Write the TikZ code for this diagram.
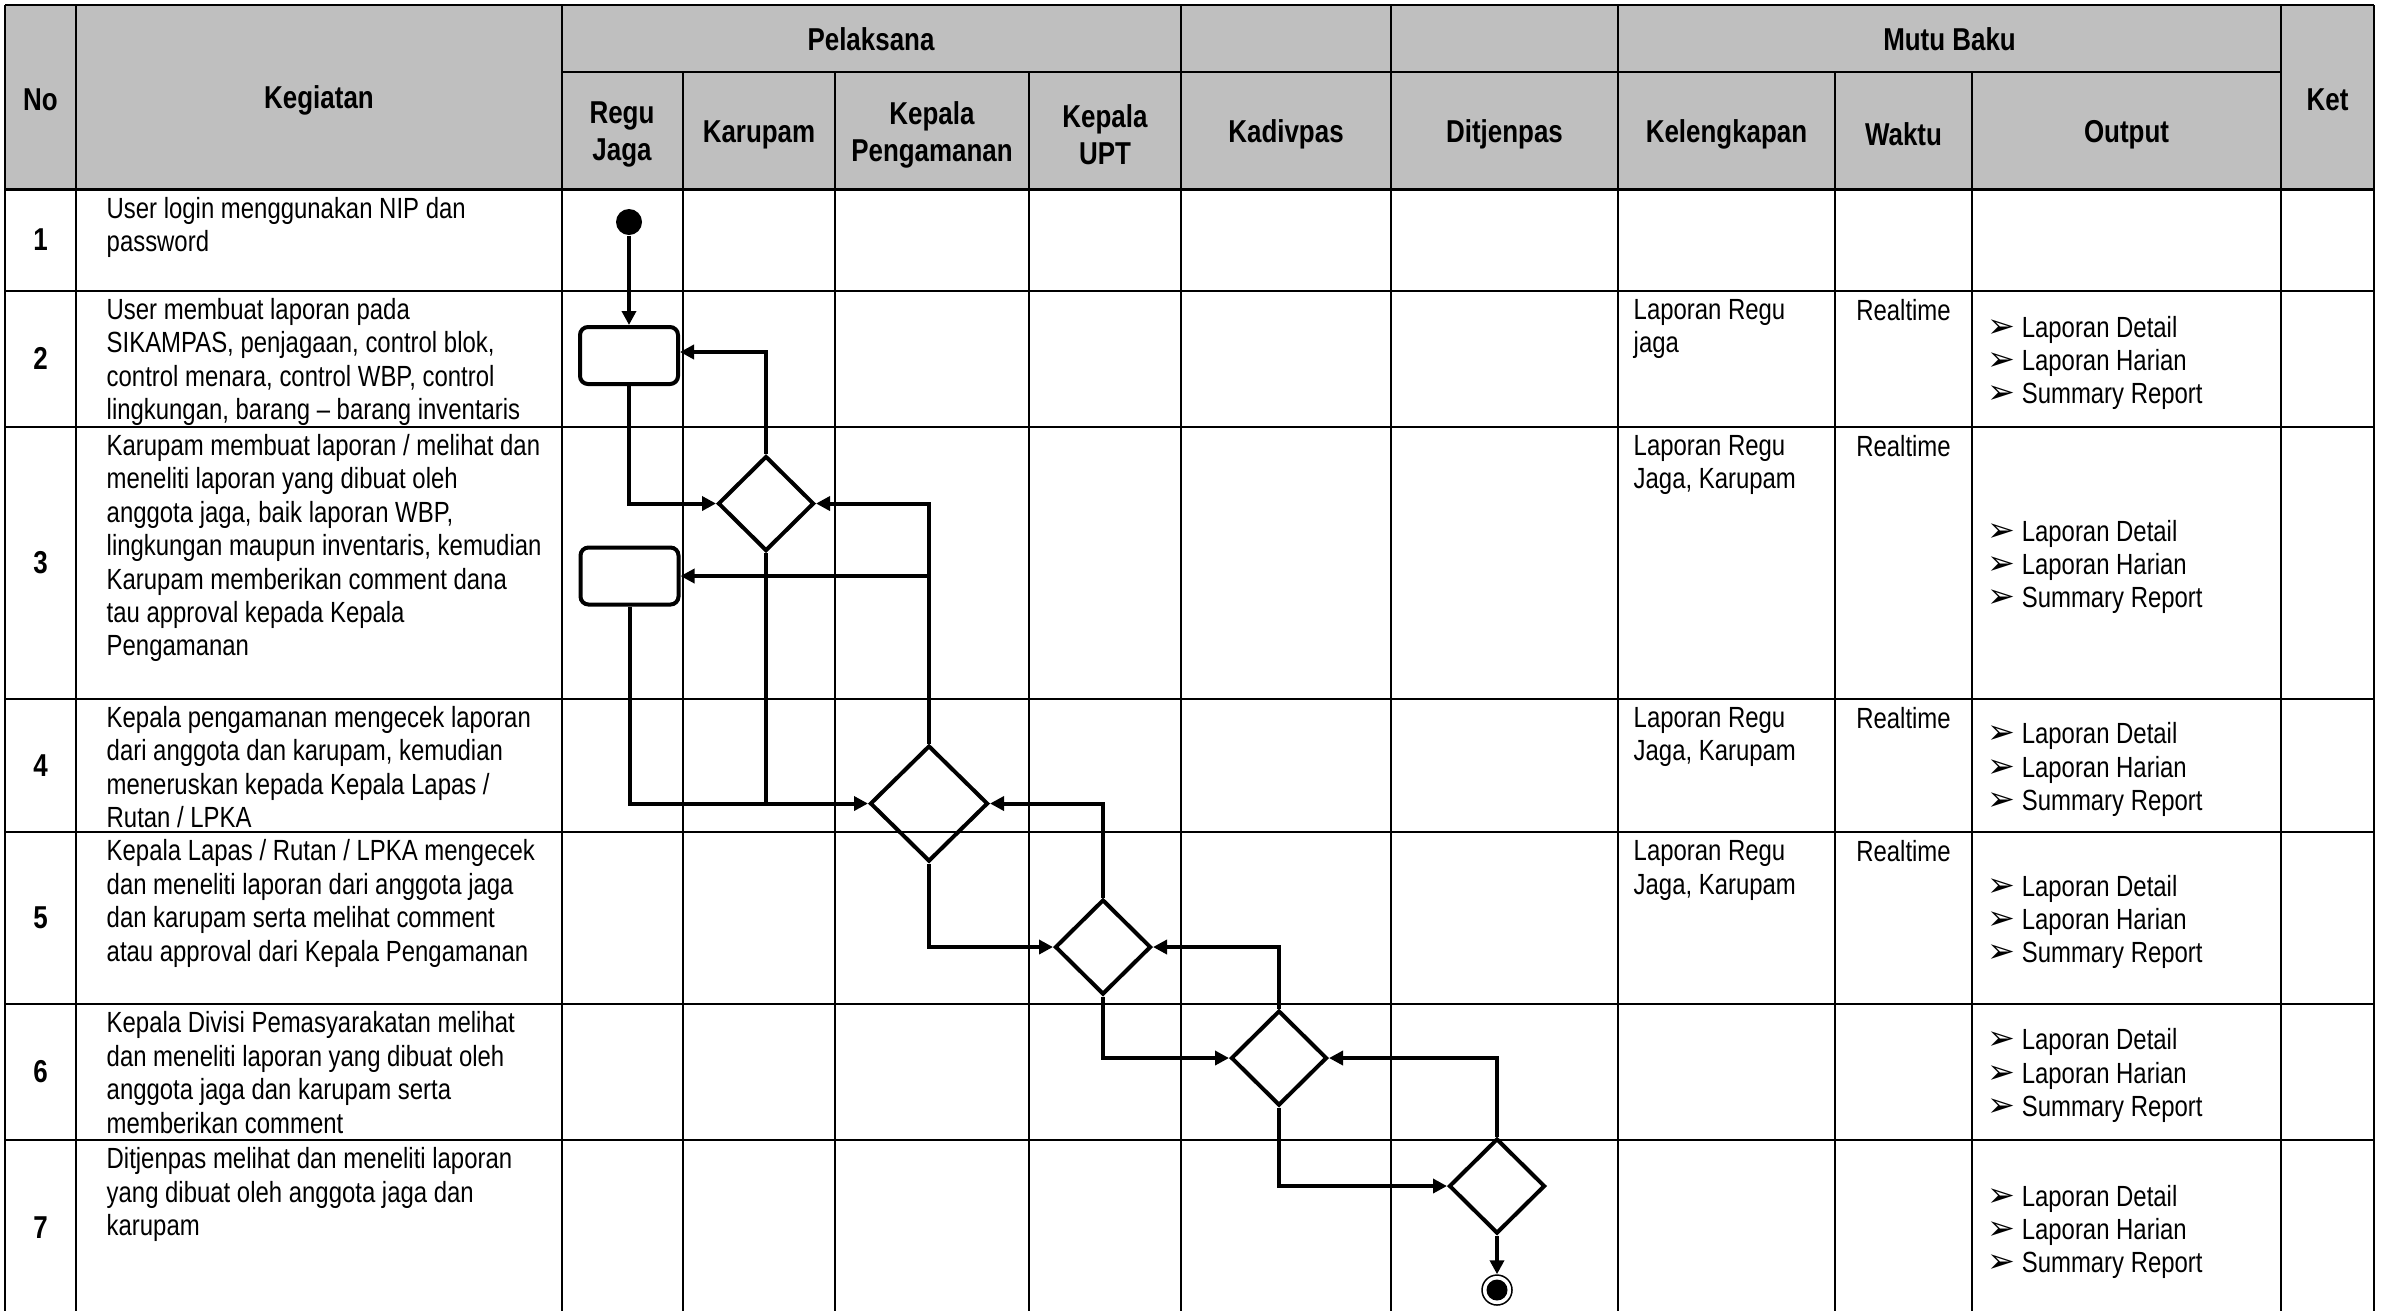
\documentclass[tikz,border=0pt]{standalone}
\usepackage{fontspec}
\setmainfont{Liberation Sans}[FakeStretch=0.82]
\newfontfamily\simbol{DejaVu Sans}
\usetikzlibrary{arrows.meta,positioning,shapes.geometric}

\newcommand{\butir}{\makebox[9.7pt][l]{\simbol\fontsize{9.5}{9.5}\selectfont ➢}}

\begin{document}
\begin{tikzpicture}[x=0.1mm,y=-0.1mm,>={Triangle[length=1.4mm,width=1.4mm]},
    garis/.style={line width=0.2mm},
    alur/.style={line width=0.4mm},
    judul/.style={font=\bfseries\fontsize{9}{10.5}\selectfont,align=center,inner sep=0},
    nomor/.style={font=\bfseries\fontsize{9}{10.5}\selectfont,inner sep=0},
    isi/.style={font=\fontsize{8.3}{9.5}\selectfont,align=left,inner sep=0,anchor=north west},
    keluaran/.style={font=\fontsize{8.3}{9.5}\selectfont,align=left,inner sep=0,anchor=west},
    aksi/.style={draw,alur,rounded corners=0.8mm,minimum width=9.8mm,minimum height=5.7mm,inner sep=0},
    pilih/.style={draw,alur,diamond,aspect=1,inner sep=0,minimum width=9.6mm,minimum height=9.5mm},
    mulai/.style={circle,fill,inner sep=0,minimum size=2.6mm},
    akhir/.style={circle,draw,line width=0.15mm,inner sep=0,minimum size=3mm,
        path picture={\fill (path picture bounding box.center) circle (1.05mm);}}]
        %warna
        \colorlet{abu}{black!25}
        \useasboundingbox (0,0) rectangle (2386,1311);

        % Latar judul
        \fill[abu] (5,5) rectangle (2374,189.3);

        % Garis mendatar
        \draw[garis] (5,5) -- (2374,5);
        \draw[garis] (561.5,71.5) -- (2281,71.5);
        \draw[line width=0.3mm] (5,189.3) -- (2374,189.3);
        \foreach \y in {290.7,426.7,698.5,832,1004,1140}
            \draw[garis] (5,\y) -- (2374,\y);

        % Garis tegak
        \foreach \x in {5,76,561.5,1181,1391,1618,2281,2374}
            \draw[garis] (\x,5) -- (\x,1311);
        \foreach \x in {683,835,1029,1835,1972}
            \draw[garis] (\x,71.5) -- (\x,1311);

        % Judul kolom
        \foreach \x/\y/\teks [count=\i] in {40.5/100/No,319/100/Kegiatan,871/39.5/Pelaksana,
            622/134.5/Regu\\Jaga,759/134.5/Karupam,932/134.5/Kepala\\Pengamanan,1105/134.5/Kepala\\UPT,
            1286/134.5/Kadivpas,1504.5/134.5/Ditjenpas,1949.5/39.5/Mutu Baku,1726.5/134.5/Kelengkapan,
            1903.5/134.5/Waktu,2126.5/134.5/Output,2327.5/100/Ket}
            \node[judul] (kol\i) at (\x,\y) {\teks};

        % Nomor
        \foreach \y [count=\n] in {240,358.7,562.6,765.3,918,1071.5,1228}
            \node[nomor] (no\n) at (40.5,\y) {\n};

        % Kegiatan
        \node[isi] (keg1) at (106,196.3) {User login menggunakan NIP dan\\password};
        \node[isi] (keg2) at (106,297.7) {User membuat laporan pada\\SIKAMPAS, penjagaan, control blok,\\control menara, control WBP, control\\lingkungan, barang -- barang inventaris};
        \node[isi] (keg3) at (106,433.7) {Karupam membuat laporan / melihat dan\\meneliti laporan yang dibuat oleh\\anggota jaga, baik laporan WBP,\\lingkungan maupun inventaris, kemudian\\Karupam memberikan comment dana\\tau approval kepada Kepala\\Pengamanan};
        \node[isi] (keg4) at (106,705.5) {Kepala pengamanan mengecek laporan\\dari anggota dan karupam, kemudian\\meneruskan kepada Kepala Lapas /\\Rutan / LPKA};
        \node[isi] (keg5) at (106,839) {Kepala Lapas / Rutan / LPKA mengecek\\dan meneliti laporan dari anggota jaga\\dan karupam serta melihat comment\\atau approval dari Kepala Pengamanan};
        \node[isi] (keg6) at (106,1011) {Kepala Divisi Pemasyarakatan melihat\\dan meneliti laporan yang dibuat oleh\\anggota jaga dan karupam serta\\memberikan comment};
        \node[isi] (keg7) at (106,1147) {Ditjenpas melihat dan meneliti laporan\\yang dibuat oleh anggota jaga dan\\karupam};

        % Mutu baku
        \node[isi] (lengkap2) at (1633,298.7) {Laporan Regu\\jaga};
        \foreach \y [count=\i from 3] in {434.7,706.5,840}
            \node[isi] (lengkap\i) at (1633,\y) {Laporan Regu\\Jaga, Karupam};
        \foreach \y [count=\i from 2] in {298.7,434.7,706.5,840}
            \node[isi,anchor=north,align=center] (waktu\i) at (1903.5,\y) {Realtime};
        \foreach \y [count=\i from 2] in {363,567,769.5,922,1075.5,1232}
            \node[keluaran] (out\i) at (1987,\y) {\butir Laporan Detail\\\butir Laporan Harian\\\butir Summary Report};

        % Alur
        \node[mulai] (awal) at (629,222) {};
        \node[aksi] (aksi1) at (629,355.5) {};
        \node[aksi] (aksi2) at (629.5,576) {};
        \node[pilih] (cek1) at (766,503.5) {};
        \node[pilih,minimum width=11.8mm,minimum height=11.6mm] (cek2) at (929,803.5) {};
        \node[pilih] (cek3) at (1103,947) {};
        \node[pilih] (cek4) at (1279,1058) {};
        \node[pilih] (cek5) at (1497,1186) {};
        \node[akhir] (selesai) at (1497,1290) {};

        \draw[alur,->] (awal) -- (aksi1);
        \draw[alur,->] (aksi1) |- (cek1);
        \draw[alur,->] (cek1) |- ([yshift=0.35mm]aksi1.east);
        \draw[alur,->] (cek2) |- (cek1);
        \draw[alur,->] (cek2.north |- aksi2) -- (aksi2);
        \draw[alur,->] (aksi2) |- (cek2);
        \draw[alur] (cek1) -- (cek1 |- cek2);
        \draw[alur,->] (cek3) |- (cek2);
        \draw[alur,->] (cek2) |- (cek3);
        \draw[alur,->] (cek4) |- (cek3);
        \draw[alur,->] (cek3) |- (cek4);
        \draw[alur,->] (cek5) |- (cek4);
        \draw[alur,->] (cek4) |- (cek5);
        \draw[alur,->] (cek5) -- (selesai);
    \end{tikzpicture}
\end{document}
